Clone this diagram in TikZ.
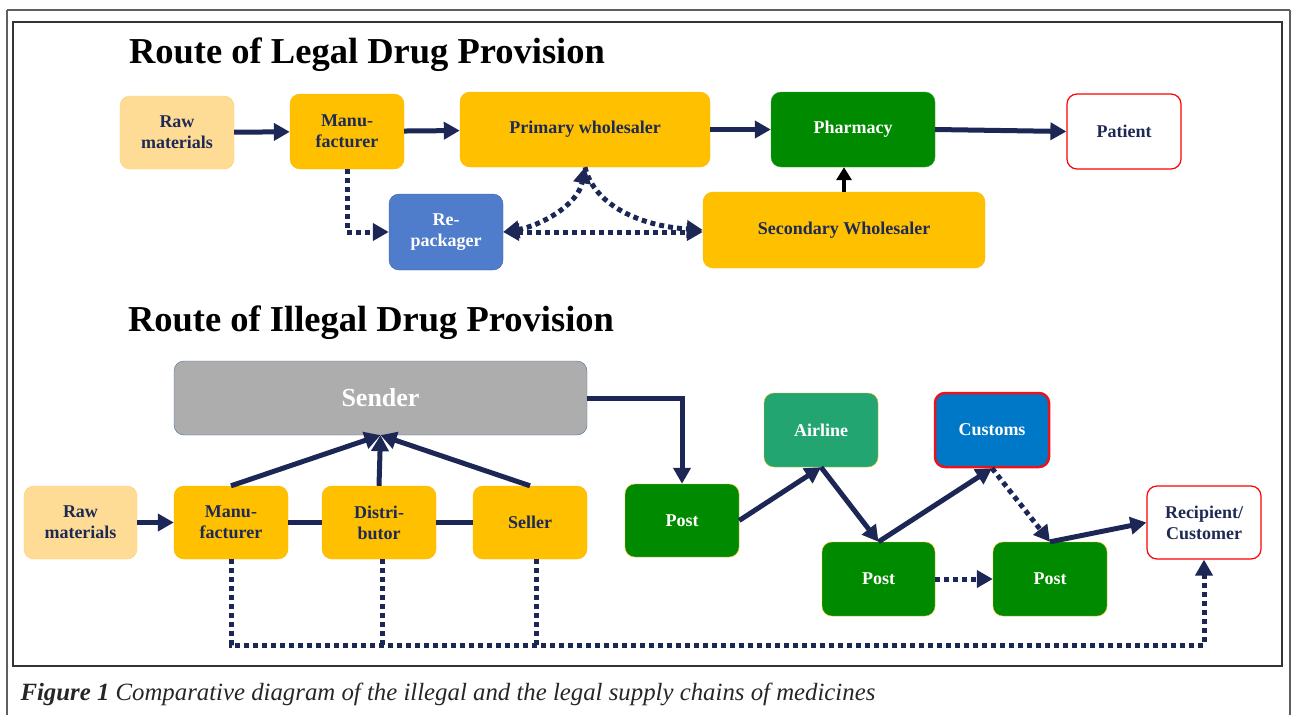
\documentclass[tikz,border=0pt]{standalone}
\usepackage{fontspec}
\setmainfont{Liberation Serif}
\usetikzlibrary{arrows.meta}
\definecolor{navyline}{RGB}{28,39,86}
\definecolor{navytext}{RGB}{31,42,84}
\definecolor{gold}{RGB}{255,192,0}
\definecolor{palegold}{RGB}{255,220,150}
\definecolor{paleedge}{RGB}{255,205,100}
\definecolor{postgreen}{RGB}{0,138,0}
\definecolor{postedge}{RGB}{235,185,0}
\definecolor{airgreen}{RGB}{35,165,114}
\definecolor{custblue}{RGB}{0,120,200}
\definecolor{custred}{RGB}{232,20,27}
\definecolor{repblue}{RGB}{79,125,203}
\definecolor{repedge}{RGB}{60,98,168}
\definecolor{sendgray}{RGB}{173,173,173}
\definecolor{sendedge}{RGB}{76,111,166}
\definecolor{framegray}{RGB}{95,95,95}

\begin{document}
\begin{tikzpicture}[x=1pt,y=-1pt,
    box/.style={rounded corners=10pt,inner sep=0pt,align=center,
        minimum width=114pt,minimum height=74pt,
        font=\bfseries\fontsize{18}{21}\selectfont},
    rawbox/.style={box,fill=palegold,draw=paleedge,text=navytext},
    goldbox/.style={box,fill=gold,draw=gold!85!orange,text=navytext},
    postbox/.style={box,fill=postgreen,draw=postedge,text=white},
    endbox/.style={box,fill=white,draw=red,line width=1.2pt,text=navytext},
    title/.style={anchor=base,font=\bfseries\fontsize{36.5}{40}\selectfont},
    flow/.style={line width=5pt,draw=navyline,-{Triangle[length=16pt,width=17pt]}},
    link/.style={line width=5pt,draw=navyline},
    dots/.style={line width=5pt,draw=navyline,dash pattern=on 5pt off 4pt},
    dotflow/.style={dots,-{Triangle[length=16pt,width=17pt]}}]
\useasboundingbox (0,0) rectangle (1291,715);
\draw[framegray,line width=1.5pt] (7,10) -- (1290,10) (7,10) -- (7,720) (1290,10) -- (1290,720);
\draw[black!80,line width=1.2pt] (13,22) rectangle (1282,666);

\node[title] (legaltitle) at (367,63) {Route of Legal Drug Provision};
\node[rawbox,minimum height=73pt] (raw1) at (177,132.5) {Raw\\materials};
\node[goldbox,minimum height=75pt] (manu1) at (347,131.5) {Manu-\\facturer};
\node[goldbox,minimum width=250pt,minimum height=75pt] (prim) at (585,129.5) {Primary wholesaler};
\node[box,fill=postgreen,draw=postgreen!80!white,text=white,minimum width=164pt,minimum height=75pt] (pharm) at (853,129.5) {Pharmacy};
\node[endbox,minimum height=75pt] (patient) at (1124,131.5) {Patient};
\node[box,fill=repblue,draw=repedge,text=white,minimum height=76pt] (repack) at (446,232) {Re-\\packager};
\node[goldbox,minimum width=282pt,minimum height=76pt] (second) at (844,230) {Secondary Wholesaler};

\draw[flow] (raw1) -- (manu1);
\draw[flow] (manu1) -- (prim);
\draw[flow] (prim) -- (pharm);
\draw[flow] (pharm.east) -- (patient.west);
\draw[line width=4pt,-{Triangle[length=13pt,width=15pt]}] (second.north) -- (second.north |- pharm.south);
\draw[dotflow] (manu1.south) |- (repack.west);
\draw[dots,{Triangle[length=16pt,width=17pt]}-{Triangle[length=16pt,width=17pt]}] (repack.east) .. controls (540,226) and (578,205) .. (prim.south);
\draw[dotflow] (prim.south) .. controls (594,205) and (640,226) .. (second.west);
\draw[dots,{Triangle[length=16pt,width=17pt]}-{Triangle[length=16pt,width=17pt]}] (repack.east) -- (repack.east -| second.west);

\node[title] (illegaltitle) at (371,331) {Route of Illegal Drug Provision};
\node[box,fill=sendgray,draw=sendedge,text=white,minimum width=413pt,font=\bfseries\fontsize{26}{30}\selectfont] (sender) at (380.5,398) {Sender};
\node[rawbox,minimum width=113pt,minimum height=73pt] (raw2) at (80.5,522.5) {Raw\\materials};
\node[goldbox,minimum height=73pt] (manu2) at (231,522.5) {Manu-\\facturer};
\node[goldbox,minimum height=73pt] (distr) at (379,522.5) {Distri-\\butor};
\node[goldbox,minimum height=73pt] (seller) at (530,522.5) {Seller};
\node[postbox,minimum height=73pt] (post1) at (682,520.5) {Post};
\node[box,fill=airgreen,draw=postedge,text=white] (airline) at (821,430) {Airline};
\node[box,fill=custblue,draw=custred,line width=2.5pt,text=white] (customs) at (992,430) {Customs};
\node[postbox,minimum width=113pt] (post2) at (878.5,579) {Post};
\node[postbox] (post3) at (1050,579) {Post};
\node[endbox,minimum height=73pt] (recip) at (1204,522.5) {Recipient/\\Customer};
\coordinate (bottomrun) at (0,645);

\draw[flow] (raw2) -- (manu2);
\draw[link] (manu2) -- (distr);
\draw[link] (distr) -- (seller);
\draw[flow] (manu2.north) -- (sender.south);
\draw[flow] (distr.north) -- (sender.south);
\draw[flow] (seller.north) -- (sender.south);
\draw[flow] (sender.east) -| (post1.north);
\draw[flow] (post1.east) -- (airline.south);
\draw[flow] (airline.south) -- (post2.north);
\draw[flow] (post2.north) -- (customs.south);
\draw[dotflow] (customs.south) -- (post3.north);
\draw[flow] (post3.north) -- (recip.west);
\draw[dotflow] (post2.east) -- (post3.west);
\draw[dotflow] (manu2.south) -- (manu2.south |- bottomrun) -| (recip.south);
\draw[dots] ([xshift=3pt]distr.south) -- ([xshift=3pt]distr.south |- bottomrun);
\draw[dots] ([xshift=6pt]seller.south) -- ([xshift=6pt]seller.south |- bottomrun);

\node[anchor=base west,font=\itshape\fontsize{24.8}{28}\selectfont,text=black!85] (caption) at (17,700)
    {\textbf{Figure 1} Comparative diagram of the illegal and the legal supply chains of medicines};
\end{tikzpicture}
\end{document}
